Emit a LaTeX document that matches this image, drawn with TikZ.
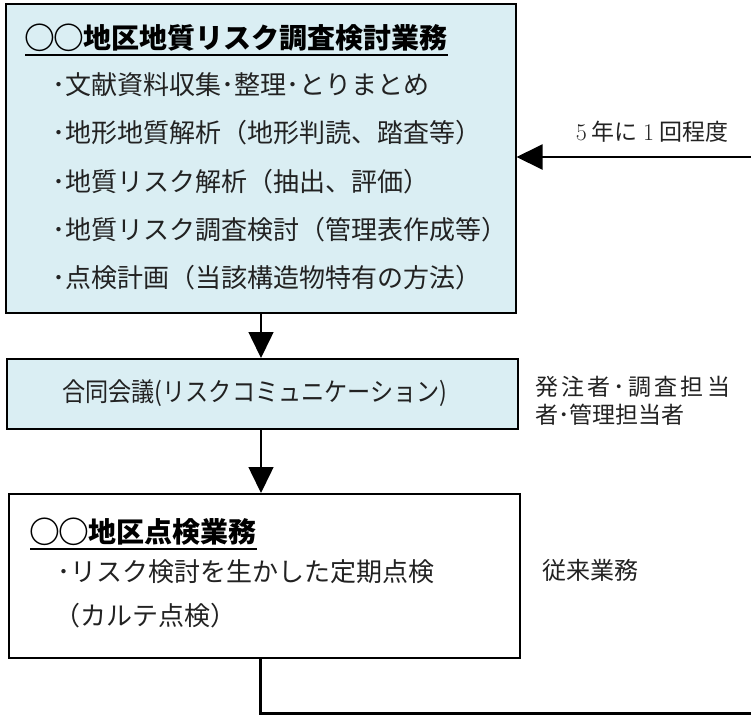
\documentclass[tikz,border=0pt]{standalone}
\usepackage{fontspec}
\newfontfamily\jp{Noto Sans CJK JP}
\usetikzlibrary{arrows.meta,calc}
\definecolor{boxblue}{HTML}{DAEEF3}
\definecolor{ink}{HTML}{222222}
\newcommand\maru{\makebox[1.04em]{\raisebox{-0.03em}{\scalebox{1.1}{○}}}}
\begin{document}
\begin{tikzpicture}[x=1pt,y=-1pt,
  box/.style={draw=black,line width=1.5pt,inner sep=0pt,anchor=north west},
  bluebox/.style={box,fill=boxblue},
  txt/.style={anchor=west,inner sep=0pt,text=ink,font=\jp\fontsize{26}{30}\selectfont},
  side/.style={anchor=west,inner sep=0pt,text=ink,font=\jp\fontsize{23}{28}\selectfont},
  ttl/.style={anchor=west,inner sep=0pt,text=black,font=\jp\bfseries\fontsize{28}{32}\selectfont},
  flow/.style={line width=1.5pt,-{Triangle[length=26pt,width=25pt]}},
  uline/.style={line width=1.6pt},
  ]
\useasboundingbox (0,0) rectangle (751,721);
% box 1
\node[bluebox,minimum width=510pt,minimum height=309pt] (b1) at (5,3) {};
\node[ttl] (t1) at (25,38) {\maru\maru 地区地質リスク調査検討業務};
\draw[uline] ($(t1.base west)+(0,6)$) -- ($(t1.base east)+(0,6)$);
\node[txt] (l1) at (52,85) {･文献資料収集･整理･とりまとめ};
\node[txt] (l2) at (52,133) {･地形地質解析（地形判読、踏査等）};
\node[txt] (l3) at (52,182) {･地質リスク解析（抽出、評価）};
\node[txt] (l4) at (52,230) {･地質リスク調査検討（管理表作成等）};
\node[txt] (l5) at (52,278) {･点検計画（当該構造物特有の方法）};
% box 2
\node[bluebox,minimum width=511pt,minimum height=70pt] (b2) at (6,358) {};
\node[txt,anchor=center] (c2) at (255,393) {\scalebox{0.89}[1]{合同会議(リスクコミュニケーション)}};
\node[side] (r1) at (535,387) {\makebox[195pt][s]{発\hfill 注\hfill 者\hfill ･\hfill 調\hfill 査\hfill 担\hfill 当}};
\node[side] (r2) at (535,415) {者･管理担当者};
% box 3
\node[box,fill=white,minimum width=511pt,minimum height=164pt] (b3) at (8,493) {};
\node[ttl] (t3) at (30,532) {\maru\maru 地区点検業務};
\draw[uline] ($(t3.base west)+(0,6)$) -- ($(t3.base east)+(0,6)$);
\node[txt] (l6) at (57,572) {･リスク検討を生かした定期点検};
\node[txt] (l7) at (54,616) {（カルテ点検）};
\node[side,font=\jp\fontsize{24}{28}\selectfont] (r3) at (542,570) {従来業務};
% connectors
\draw[flow] (b1.south -| 261,0) -- (b2.north -| 261,0);
\draw[flow] (b2.south -| 261,0) -- (b3.north -| 261,0);
\coordinate (e1) at (751,713);
\draw[line width=3pt] (b3.south -| 260,0) |- (e1);
\coordinate (e2) at (751,157);
\draw[flow,line width=2pt] (e2) -- (b1.east |- e2);
\node[anchor=center,inner sep=0pt,text=ink,font=\jp\fontsize{23}{26}\selectfont] (lab) at (652,132) {{\rmfamily\fontsize{24}{26}\selectfont 5} 年に {\rmfamily\fontsize{24}{26}\selectfont 1} 回程度};
\end{tikzpicture}
\end{document}
